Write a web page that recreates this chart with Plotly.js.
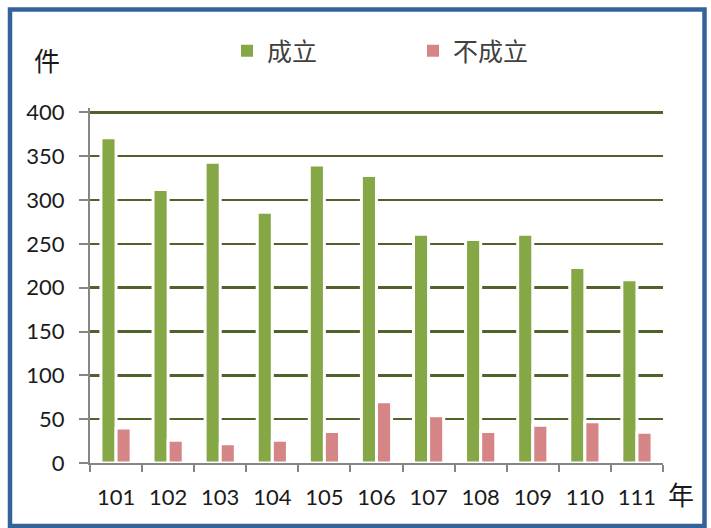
<!DOCTYPE html>
<html>
<head>
<meta charset="utf-8">
<script src="https://cdn.plot.ly/plotly-3.0.1.min.js"></script>
<style>html,body{margin:0;padding:0;background:#fff;}#chart{width:711px;height:528px;}</style>
</head>
<body>
<div id="chart"></div>
<script>
var years = ["101","102","103","104","105","106","107","108","109","110","111"];
var established = [371, 312, 343, 286, 340, 328, 261, 255, 261, 223, 209];
var notEstablished = [40, 26, 22, 26, 36, 70, 54, 36, 43, 47, 35];
var seriesNames = ['成立', '不成立'];
var seriesColors = ['#86A745', '#D58585'];
var yTicks = [0, 50, 100, 150, 200, 250, 300, 350, 400];

var W = 711, H = 528;
var mL = 90, mR = 48, mT = 108, mB = 65;
var pw = W - mL - mR, ph = H - mT - mB;
function px(x){ return (x - mL) / pw; }
function py(y){ return (H - mB - y) / ph; }

var traces = [
  {type:'bar', name:seriesNames[0], x:years, y:established, showlegend:false,
   marker:{color:seriesColors[0], line:{color:'#ffffff', width:3}}},
  {type:'bar', name:seriesNames[1], x:years, y:notEstablished, showlegend:false,
   marker:{color:seriesColors[1], line:{color:'#ffffff', width:3}}},
  // legend swatches only: zero-height bars on a hidden overlay axis
  {type:'bar', name:seriesNames[0], x:[years[0]], y:[0], xaxis:'x2', yaxis:'y2', showlegend:true,
   marker:{color:seriesColors[0], line:{width:0}}},
  {type:'bar', name:seriesNames[1], x:[years[0]], y:[0], xaxis:'x2', yaxis:'y2', showlegend:true,
   marker:{color:seriesColors[1], line:{width:0}}}
];

var cjk = '"Noto Sans CJK TC", "Noto Sans CJK SC", sans-serif';
var layout = {
  width: W, height: H,
  margin: {l:mL, r:mR, t:mT, b:mB, pad:0},
  paper_bgcolor:'#ffffff', plot_bgcolor:'#ffffff',
  barmode:'group', bargap:0.42, bargroupgap:0,
  font:{family:'Lato, "Liberation Sans", sans-serif', size:22, color:'#1a1a1a'},
  xaxis:{type:'category', tickson:'boundaries', ticks:'outside', ticklen:7, tickwidth:2,
         tickcolor:'#868686', showline:true, linecolor:'#868686', linewidth:2,
         showgrid:false, ticklabelstandoff:14, fixedrange:true},
  yaxis:{range:[0,405], tickvals:yTicks, ticks:'outside', ticklen:9, tickwidth:2,
         tickcolor:'#868686', showline:true, linecolor:'#868686', linewidth:2,
         showgrid:true, gridcolor:'#4F6228', gridwidth:2.5, zeroline:false,
         ticklabelstandoff:10, fixedrange:true},
  xaxis2:{overlaying:'x', type:'category', visible:false, showgrid:false, zeroline:false, fixedrange:true},
  yaxis2:{overlaying:'y', range:[1,2], visible:false, showgrid:false, zeroline:false, fixedrange:true},
  showlegend:true,
  legend:{orientation:'h', x:px(227), xanchor:'left', y:py(51), yanchor:'middle',
          entrywidth:141, font:{family:cjk, size:25, color:'#404040'},
          bgcolor:'rgba(0,0,0,0)', borderwidth:0},
  annotations:[
    {text:'件', xref:'paper', yref:'paper', x:px(47), y:py(60), xanchor:'center', yanchor:'middle',
     showarrow:false, font:{family:cjk, size:26, color:'#1a1a1a'}},
    {text:'年', xref:'paper', yref:'paper', x:px(681), y:py(494), xanchor:'center', yanchor:'middle',
     showarrow:false, font:{family:cjk, size:26, color:'#1a1a1a'}}
  ],
  shapes:[
    {type:'rect', xref:'paper', yref:'paper', x0:px(10), x1:px(704.5), y0:py(526), y1:py(9.5),
     line:{color:'#36629A', width:4.5}, fillcolor:'rgba(0,0,0,0)', layer:'above'}
  ]
};

Plotly.newPlot('chart', traces, layout, {displayModeBar:false, staticPlot:true});
</script>
</body>
</html>
